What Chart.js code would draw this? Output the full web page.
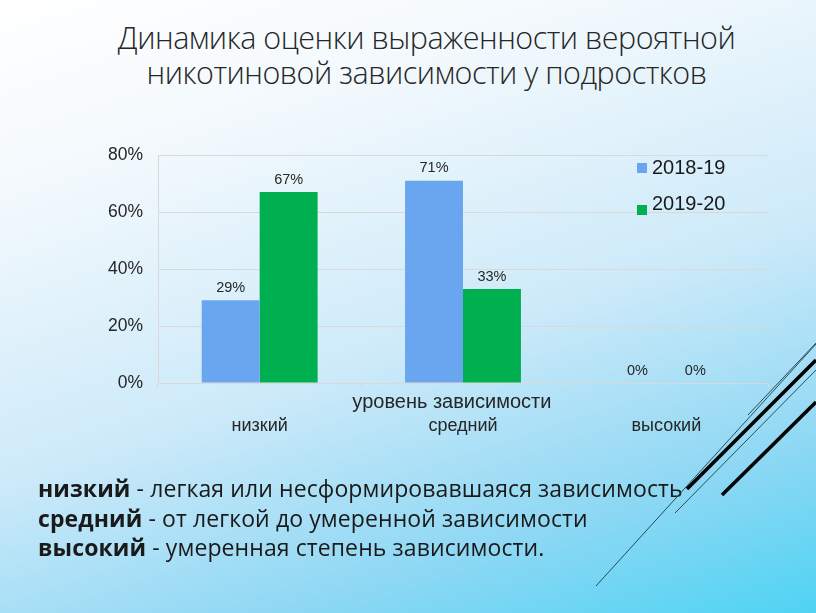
<!DOCTYPE html>
<html>
<head>
<meta charset="utf-8">
<script src="https://cdn.jsdelivr.net/npm/chart.js@4/dist/chart.umd.min.js"></script>
<style>
  html, body { margin: 0; padding: 0; }
  body {
    width: 816px; height: 613px; overflow: hidden; position: relative;
    background: linear-gradient(162deg, #ffffff 0%, #f3f9fd 22%, #cdeaf9 55%, #8fd8f4 80%, #4fd3f3 100%);
    font-family: "Open Sans", sans-serif;
  }
  #title {
    position: absolute; left: 0; width: 853px; top: 20px;
    text-align: center; font-size: 30.5px; line-height: 35px; color: #262626;
    font-weight: 300; letter-spacing: -0.5px;
  }
  #chartBox { position: absolute; left: 0; top: 0; width: 816px; height: 613px; }
  #legend {
    position: absolute; left: 637px; top: 155px;
    font-family: "Liberation Sans", Arial, sans-serif; font-size: 20px; color: #1a1a1a;
  }
  .item { position: relative; height: 36px; line-height: 24px; padding-left: 15px; }
  .box { position: absolute; left: 0; width: 10px; height: 10px; }
  #notes {
    position: absolute; left: 38px; top: 474px;
    font-size: 23px; line-height: 29.5px; color: #1a1a1a; letter-spacing: 0.1px;
  }
  #notes b { font-weight: 700; }
  #deco { position: absolute; left: 0; top: 0; }
</style>
</head>
<body>
<div id="title">Динамика оценки выраженности вероятной<br>никотиновой зависимости у подростков</div>
<div id="chartBox"><canvas id="chart" width="816" height="613"></canvas></div>
<div id="legend"></div>
<div id="notes">
  <b>низкий</b> - легкая или несформировавшаяся зависимость<br>
  <b>средний</b> - от легкой до умеренной зависимости<br>
  <b>высокий</b> - умеренная степень зависимости.
</div>
<svg id="deco" width="816" height="613">
  <line x1="596" y1="586" x2="816" y2="344" stroke="#2b4a5a" stroke-width="1"/>
  <line x1="748" y1="415" x2="816" y2="343" stroke="#2b4a5a" stroke-width="1"/>
  <line x1="675" y1="513" x2="816" y2="370" stroke="#2b4a5a" stroke-width="1"/>
  <line x1="687" y1="489" x2="816" y2="360" stroke="#000" stroke-width="3.5"/>
  <line x1="722" y1="495" x2="816" y2="402" stroke="#000" stroke-width="3.5"/>
</svg>
<script>
const categories = ["низкий", "средний", "высокий"];
const seriesNames = ["2018-19", "2019-20"];
const values2018 = [29, 71, 0];
const values2019 = [67, 33, 0];
const seriesColors = ["#6aa6f0", "#00b050"];
const axisTitle = "уровень зависимости";
const yMax = 80;
const yStep = 20;

const textColor = "#262626";
const gridColor = "#d9d9d9";
const fontFamily = "'Liberation Sans', Arial, sans-serif";

// value labels above each bar
const valueLabels = {
  id: "valueLabels",
  afterDatasetsDraw(chart) {
    const ctx = chart.ctx;
    ctx.save();
    ctx.font = "14.5px " + fontFamily;
    ctx.fillStyle = textColor;
    ctx.textAlign = "center";
    ctx.textBaseline = "bottom";
    chart.data.datasets.forEach((ds, i) => {
      chart.getDatasetMeta(i).data.forEach((bar, j) => {
        ctx.fillText(ds.data[j] + "%", bar.x, bar.y - 5);
      });
    });
    ctx.restore();
  },
};

const chart = new Chart("chart", {
  type: "bar",
  data: {
    labels: categories,
    datasets: [
      { label: seriesNames[0], data: values2018, backgroundColor: seriesColors[0] },
      { label: seriesNames[1], data: values2019, backgroundColor: seriesColors[1] },
    ],
  },
  options: {
    responsive: false,
    animation: false,
    categoryPercentage: 0.57,
    barPercentage: 1,
    layout: { padding: { left: 0, top: 155, right: 48, bottom: 0 } },
    plugins: {
      legend: { display: false },
      tooltip: { enabled: false },
    },
    scales: {
      x: {
        afterFit: (scale) => { scale.height = 230; },
        grid: { drawOnChartArea: false, offset: true, tickLength: 5, color: gridColor },
        border: { color: gridColor },
        ticks: {
          padding: 27,
          color: textColor,
          font: { family: fontFamily, size: 18 },
        },
        title: {
          display: true,
          // trailing spaces nudge the centred title a little to the left
          text: axisTitle + "\u00a0\u00a0\u00a0\u00a0",
          color: textColor,
          font: { family: fontFamily, size: 20 },
          padding: { top: 0, bottom: 199 },
        },
      },
      y: {
        min: 0,
        max: yMax,
        afterFit: (scale) => { scale.width = 158; },
        grid: { color: gridColor, drawTicks: false },
        border: { display: true, color: gridColor },
        ticks: {
          stepSize: yStep,
          padding: 15,
          color: textColor,
          font: { family: fontFamily, size: 17.5 },
          callback: (v) => v + "%",
        },
      },
    },
  },
  plugins: [valueLabels],
});

// legend built from the datasets
const legend = document.getElementById("legend");
chart.data.datasets.forEach((ds, i) => {
  const item = document.createElement("div");
  item.className = "item";
  const box = document.createElement("span");
  box.className = "box";
  box.style.background = ds.backgroundColor;
  box.style.top = i === 0 ? "8px" : "14px";
  item.appendChild(box);
  item.appendChild(document.createTextNode(ds.label));
  legend.appendChild(item);
});
</script>
</body>
</html>
